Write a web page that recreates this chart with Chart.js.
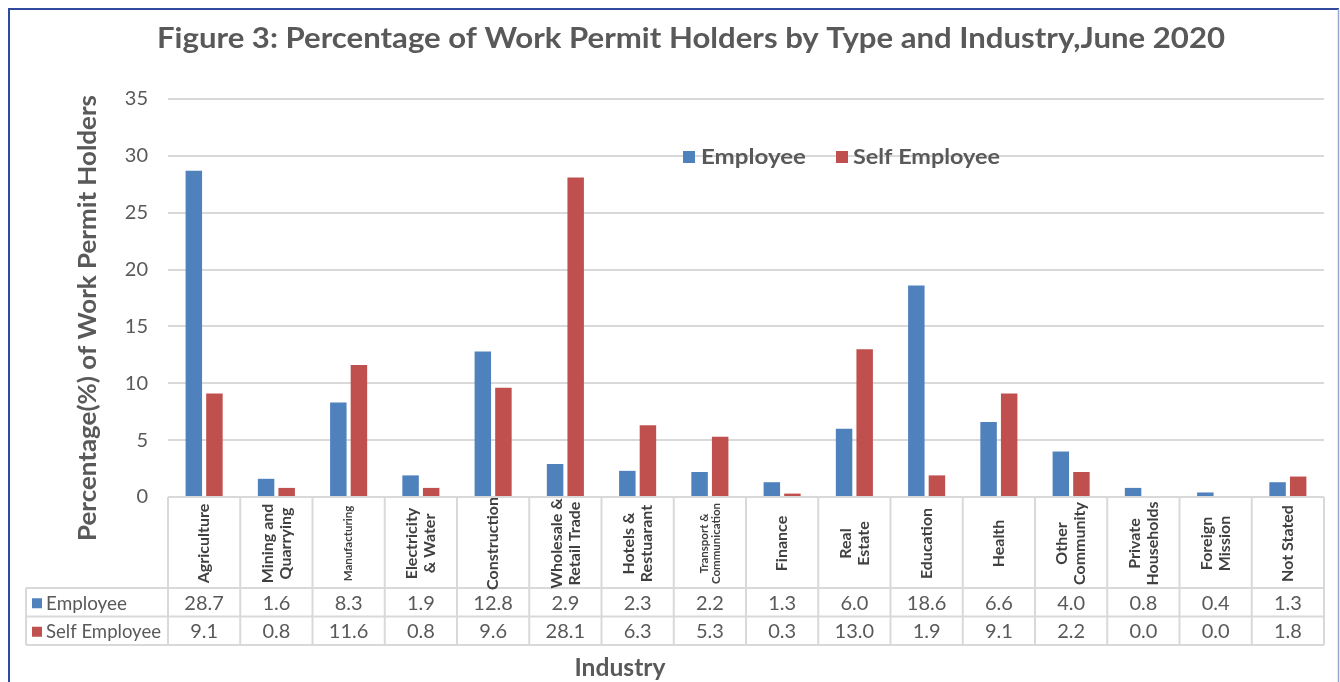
<!DOCTYPE html>
<html>
<head>
<meta charset="utf-8">
<script src="https://cdn.jsdelivr.net/npm/chart.js@4/dist/chart.umd.min.js"></script>
<style>
  html, body { margin: 0; padding: 0; background: #ffffff; }
  canvas { display: block; }
</style>
</head>
<body>
<canvas id="c" width="1340" height="682"></canvas>
<script>
// ---------- DATA ----------
const titleText = "Figure 3: Percentage of Work Permit Holders by Type and Industry,June 2020";
const yAxisTitle = "Percentage(%) of Work Permit Holders";
const xAxisTitle = "Industry";
const categories = [
  ["Agriculture"],
  ["Mining and", "Quarrying"],
  ["Manufacturing"],
  ["Electricity", "& Water"],
  ["Construction"],
  ["Wholesale &", "Retail Trade"],
  ["Hotels &", "Restuarant"],
  ["Transport &", "Communication"],
  ["Finance"],
  ["Real", "Estate"],
  ["Education"],
  ["Health"],
  ["Other", "Community"],
  ["Private", "Households"],
  ["Foreign", "Mission"],
  ["Not Stated"]
];
const seriesNames = ["Employee", "Self Employee"];
const employee = [28.7, 1.6, 8.3, 1.9, 12.8, 2.9, 2.3, 2.2, 1.3, 6.0, 18.6, 6.6, 4.0, 0.8, 0.4, 1.3];
const selfEmployee = [9.1, 0.8, 11.6, 0.8, 9.6, 28.1, 6.3, 5.3, 0.3, 13.0, 1.9, 9.1, 2.2, 0.0, 0.0, 1.8];
const yTicks = [0, 5, 10, 15, 20, 25, 30, 35];

// ---------- STYLE ----------
const BLUE = "#4F81BD";
const RED = "#C0504D";
const TEXT = "#595959";
const DARK = "#404040";
const GRID = "#D9D9D9";
const FONT = "Lato, 'Open Sans', 'DejaVu Sans', sans-serif";
const smallLabels = new Set(["Manufacturing", "Transport &"]);

function fitText(ctx, text, x, y, width, align) {
  const w = ctx.measureText(text).width;
  const s = width / w;
  ctx.save();
  ctx.translate(x, y);
  ctx.scale(s, 1);
  ctx.textAlign = "left";
  let start = 0;
  if (align === "center") start = -w / 2;
  ctx.fillText(text, start, 0);
  ctx.restore();
}

const decorPlugin = {
  id: "decor",
  afterDraw(chart) {
    const ctx = chart.ctx;
    const xs = chart.scales.x;
    const ca = chart.chartArea;
    const n = categories.length;
    const colW = (ca.right - ca.left) / n;
    const top = ca.bottom;
    const headH = 91;
    const rowH = 28.5;
    const r1 = top + headH, r2 = r1 + rowH, r3 = r2 + rowH;
    const labelLeft = 26;

    ctx.save();
    // frame
    ctx.strokeStyle = "#2F4A9C";
    ctx.lineWidth = 2;
    ctx.beginPath();
    ctx.moveTo(9, 682); ctx.lineTo(9, 9); ctx.lineTo(1339, 9);
    ctx.stroke();
    ctx.strokeStyle = "#9AA6D2";
    ctx.lineWidth = 1.5;
    ctx.beginPath();
    ctx.moveTo(1338.5, 9); ctx.lineTo(1338.5, 682);
    ctx.stroke();

    // title
    ctx.fillStyle = TEXT;
    ctx.font = "bold 28px " + FONT;
    ctx.textBaseline = "alphabetic";
    fitText(ctx, titleText, 691, 48, 1068, "center");

    // y axis title
    ctx.save();
    ctx.translate(96, 318);
    ctx.rotate(-Math.PI / 2);
    ctx.font = "bold 24px " + FONT;
    ctx.fillStyle = TEXT;
    fitText(ctx, yAxisTitle, 0, 0, 446, "center");
    ctx.restore();

    // x axis title
    ctx.font = "bold 24px " + FONT;
    ctx.fillStyle = TEXT;
    fitText(ctx, xAxisTitle, 620, 676, 91, "center");

    // legend
    ctx.font = "bold 21px " + FONT;
    ctx.textBaseline = "middle";
    ctx.fillStyle = BLUE;
    ctx.fillRect(683, 151, 12, 12);
    ctx.fillStyle = TEXT;
    fitText(ctx, seriesNames[0], 701, 157, 105, "left");
    ctx.fillStyle = RED;
    ctx.fillRect(836, 151, 12, 12);
    ctx.fillStyle = TEXT;
    fitText(ctx, seriesNames[1], 853, 157, 147, "left");

    // table lines
    ctx.strokeStyle = GRID;
    ctx.lineWidth = 2;
    ctx.beginPath();
    ctx.moveTo(ca.left, top); ctx.lineTo(ca.right, top);
    [r1, r2, r3].forEach(y => { ctx.moveTo(labelLeft, y); ctx.lineTo(ca.right, y); });
    ctx.moveTo(labelLeft, r1); ctx.lineTo(labelLeft, r3);
    for (let i = 0; i <= n; i++) {
      const x = ca.left + i * colW;
      ctx.moveTo(x, top); ctx.lineTo(x, r3);
    }
    ctx.stroke();

    // category labels (rotated)
    const cy = top + headH / 2 + 1;
    categories.forEach((lines, i) => {
      const cx = xs.getPixelForValue(i);
      const small = smallLabels.has(lines[0]);
      const fs = small ? 11.5 : 16;
      const lh = small ? 12 : 18;
      ctx.save();
      ctx.translate(cx, cy);
      ctx.rotate(-Math.PI / 2);
      ctx.font = "bold " + fs + "px " + FONT;
      ctx.fillStyle = DARK;
      ctx.textAlign = "center";
      ctx.textBaseline = "middle";
      lines.forEach((t, k) => {
        ctx.fillText(t, 0, (k - (lines.length - 1) / 2) * lh);
      });
      ctx.restore();
    });

    // data rows
    ctx.font = "20px " + FONT;
    ctx.fillStyle = TEXT;
    ctx.textAlign = "center";
    ctx.textBaseline = "middle";
    const rows = [employee, selfEmployee];
    const rowY = [r1 + rowH / 2 + 1, r2 + rowH / 2 + 1];
    rows.forEach((arr, ri) => {
      arr.forEach((v, i) => {
        ctx.fillText(v.toFixed(1), xs.getPixelForValue(i), rowY[ri]);
      });
    });
    // row labels
    const cols = [BLUE, RED];
    const labelW = [81, 115];
    rows.forEach((arr, ri) => {
      ctx.fillStyle = cols[ri];
      ctx.fillRect(32, rowY[ri] - 5, 10, 10);
      ctx.fillStyle = TEXT;
      ctx.font = "20px " + FONT;
      fitText(ctx, seriesNames[ri], 46, rowY[ri], labelW[ri], "left");
    });
    ctx.restore();
  }
};

new Chart(document.getElementById("c"), {
  type: "bar",
  data: {
    labels: categories.map(c => c.join(" ")),
    datasets: [
      { label: seriesNames[0], data: employee, backgroundColor: BLUE,
        categoryPercentage: 0.57, barPercentage: 0.8 },
      { label: seriesNames[1], data: selfEmployee, backgroundColor: RED,
        categoryPercentage: 0.57, barPercentage: 0.8 }
    ]
  },
  options: {
    responsive: false,
    animation: false,
    devicePixelRatio: 1,
    layout: { padding: { left: 0, top: 99, right: 16, bottom: 185 } },
    plugins: { legend: { display: false }, title: { display: false }, tooltip: { enabled: false } },
    scales: {
      x: { display: false },
      y: {
        min: 0, max: 35,
        afterFit(scale) { scale.width = 168; },
        afterBuildTicks(scale) { scale.ticks = yTicks.map(v => ({ value: v })); },
        grid: { color: GRID, lineWidth: 2, drawTicks: false },
        border: { display: false },
        ticks: { padding: 20, color: TEXT, font: { size: 20, family: FONT } }
      }
    }
  },
  plugins: [decorPlugin]
});
</script>
</body>
</html>
